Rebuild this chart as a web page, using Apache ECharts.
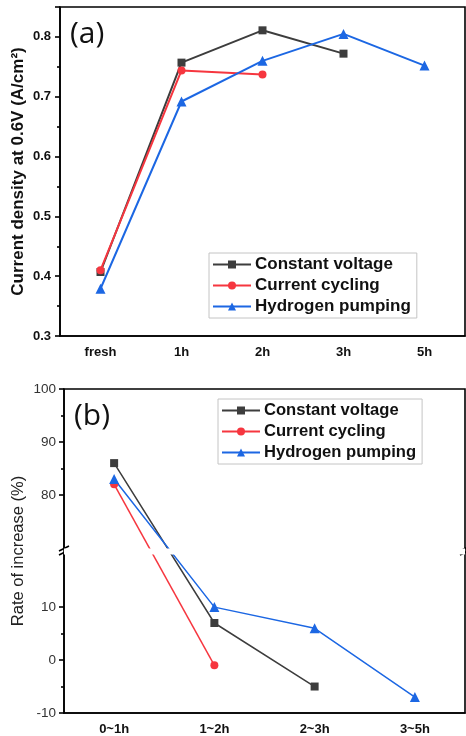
<!DOCTYPE html>
<html lang="en">
<head>
    <meta charset="UTF-8">
    <title>Current density and rate of increase</title>
    <script src="https://cdn.jsdelivr.net/npm/echarts@6/dist/echarts.min.js"></script>
</head>
<style type="text/css">
    body{
        margin:0;
        background:#fff;
    }
    #chart{
        width: 466px;
        height: 736px;
    }
</style>
<body>
    <div id="chart"></div>
<script type="text/javascript">
// panel (a): current density at 0.6V
var stagesA = ['fresh', '1h', '2h', '3h', '5h'];
var cvA = [0.407, 0.757, 0.811, 0.772, null];
var ccA = [0.410, 0.744, 0.737, null, null];
var hpA = [0.379, 0.692, 0.760, 0.805, 0.752];

// panel (b): rate of increase (%)
var stagesB = ['0~1h', '1~2h', '2~3h', '3~5h'];
var cvB = [86, 7, -5, null];
var ccB = [82, -1, null, null];
var hpB = [83, 10, 6, -7];
var tickValuesB = [-10, 0, 10, 80, 90, 100];

var names = ['Constant voltage', 'Current cycling', 'Hydrogen pumping'];
var colors = ['#3d3d3d', '#f6363f', '#1c67e3'];
var symbols = ['rect', 'circle', 'triangle'];

var font = 'Liberation Sans, Arial, sans-serif';

function mkSeries(name, data, idx, axis, lw, size) {
    return {
        name: name,
        type: 'line',
        xAxisIndex: axis,
        yAxisIndex: axis,
        data: data,
        symbol: symbols[idx],
        symbolSize: size,
        connectNulls: false,
        color: colors[idx],
        lineStyle: {width: lw, color: colors[idx]},
        itemStyle: {color: colors[idx]},
        animation: false
    };
}

function mkLegend(left, top, fs) {
    return {
        data: names,
        orient: 'vertical',
        left: left,
        top: top,
        itemWidth: 38,
        itemHeight: 10,
        itemGap: 4,
        padding: [3, 6, 3, 3],
        borderColor: '#c4c4c4',
        borderWidth: 1,
        selectedMode: false,
        textStyle: {fontFamily: font, fontWeight: 'bold', fontSize: fs, color: '#111', padding: [0, 0, 0, -1]}
    };
}

var axisLineStyle = {color: '#000', width: 1.6};

var option = {
    backgroundColor: '#fff',
    animation: false,
    grid: [
        {left: 60, top: 7, width: 405, height: 329, outerBoundsMode: 'none', containLabel: false,
            show: true, borderColor: '#000', borderWidth: 1.6},
        {left: 64, top: 389, width: 401, height: 324, outerBoundsMode: 'none', containLabel: false,
            show: true, borderColor: '#000', borderWidth: 1.6}
    ],
    legend: [mkLegend(209, 253, 17), mkLegend(218, 399, 16.6)],
    xAxis: [
        {
            type: 'category', gridIndex: 0, data: stagesA, boundaryGap: true,
            axisLine: {onZero: false, lineStyle: axisLineStyle},
            axisTick: {alignWithLabel: true, length: 5, lineStyle: axisLineStyle},
            axisLabel: {fontFamily: font, fontWeight: 'bold', fontSize: 13, color: '#111', margin: 10}
        },
        {
            type: 'category', gridIndex: 1, data: stagesB, boundaryGap: true,
            axisLine: {onZero: false, lineStyle: axisLineStyle},
            axisTick: {alignWithLabel: true, length: 5, lineStyle: axisLineStyle},
            axisLabel: {fontFamily: font, fontWeight: 'bold', fontSize: 13, color: '#111', margin: 10}
        },
        // boundary ticks
        {
            type: 'category', gridIndex: 0, data: stagesA, boundaryGap: true, position: 'bottom',
            axisLine: {show: false, onZero: false}, axisLabel: {show: false},
            axisTick: {length: 3, lineStyle: axisLineStyle}
        },
        {
            type: 'category', gridIndex: 1, data: stagesB, boundaryGap: true, position: 'bottom',
            axisLine: {show: false, onZero: false}, axisLabel: {show: false},
            axisTick: {length: 3, lineStyle: axisLineStyle}
        }
    ],
    yAxis: [
        {
            type: 'value', gridIndex: 0, min: 0.3, max: 0.85, interval: 0.1,
            name: 'Current density at 0.6V (A/cm²)',
            nameLocation: 'middle', nameGap: 33, nameMoveOverlap: false,
            nameTextStyle: {fontFamily: font, fontWeight: 'bold', fontSize: 17, color: '#111'},
            splitLine: {show: false},
            axisLine: {show: true, lineStyle: axisLineStyle},
            axisTick: {show: true, length: 5, lineStyle: axisLineStyle},
            minorTick: {show: true, splitNumber: 2, length: 3, lineStyle: axisLineStyle},
            axisLabel: {
                fontFamily: font, fontWeight: 'bold', fontSize: 13, color: '#111', margin: 9,
                showMaxLabel: false,
                formatter: function (v) { return v.toFixed(1); }
            }
        },
        {
            type: 'value', gridIndex: 1, min: -10, max: 100, interval: 10,
            breaks: [{start: 20, end: 70, gap: 1.2}],
            breakArea: {
                show: true,
                itemStyle: {color: '#fff', borderColor: '#fff', borderWidth: 0, opacity: 1},
                zigzagAmplitude: 0,
                expandOnClick: false
            },
            name: 'Rate of increase (%)',
            nameLocation: 'middle', nameGap: 37, nameMoveOverlap: false,
            nameTextStyle: {fontFamily: font, fontSize: 16.5, color: '#222'},
            splitLine: {show: false},
            axisLine: {show: true, lineStyle: axisLineStyle},
            axisTick: {show: true, length: 5, lineStyle: axisLineStyle, customValues: tickValuesB},
            minorTick: {show: true, splitNumber: 2, length: 3, lineStyle: axisLineStyle},
            axisLabel: {fontFamily: font, fontSize: 13.5, color: '#333', margin: 8, customValues: tickValuesB}
        }
    ],
    graphic: [
        {type: 'text', left: 70, top: 19, style: {text: '(a)', font: '30px "Open Sans", sans-serif', fill: '#111'}},
        {type: 'text', left: 74, top: 401, style: {text: '(b)', font: '30px "Open Sans", sans-serif', fill: '#111'}},
        {type: 'polyline', shape: {points: [[59, 555], [69, 550]]}, style: {stroke: '#000', lineWidth: 1.6}, z: 100},
        {type: 'polyline', shape: {points: [[59, 551], [69, 546]]}, style: {stroke: '#000', lineWidth: 1.6}, z: 100},
        {type: 'polyline', shape: {points: [[460, 555], [470, 550]]}, style: {stroke: '#000', lineWidth: 1.6}, z: 100},
        {type: 'polyline', shape: {points: [[460, 551], [470, 546]]}, style: {stroke: '#000', lineWidth: 1.6}, z: 100}
    ],
    series: [
        mkSeries(names[0], cvA, 0, 0, 2, 8),
        mkSeries(names[1], ccA, 1, 0, 2, 8),
        mkSeries(names[2], hpA, 2, 0, 2, 10),
        mkSeries(names[0], cvB, 0, 1, 1.5, 8),
        mkSeries(names[1], ccB, 1, 1, 1.5, 8),
        mkSeries(names[2], hpB, 2, 1, 1.5, 10)
    ]
};

var myChart = echarts.init(document.getElementById('chart'));
myChart.setOption(option);
</script>
</body>
</html>
